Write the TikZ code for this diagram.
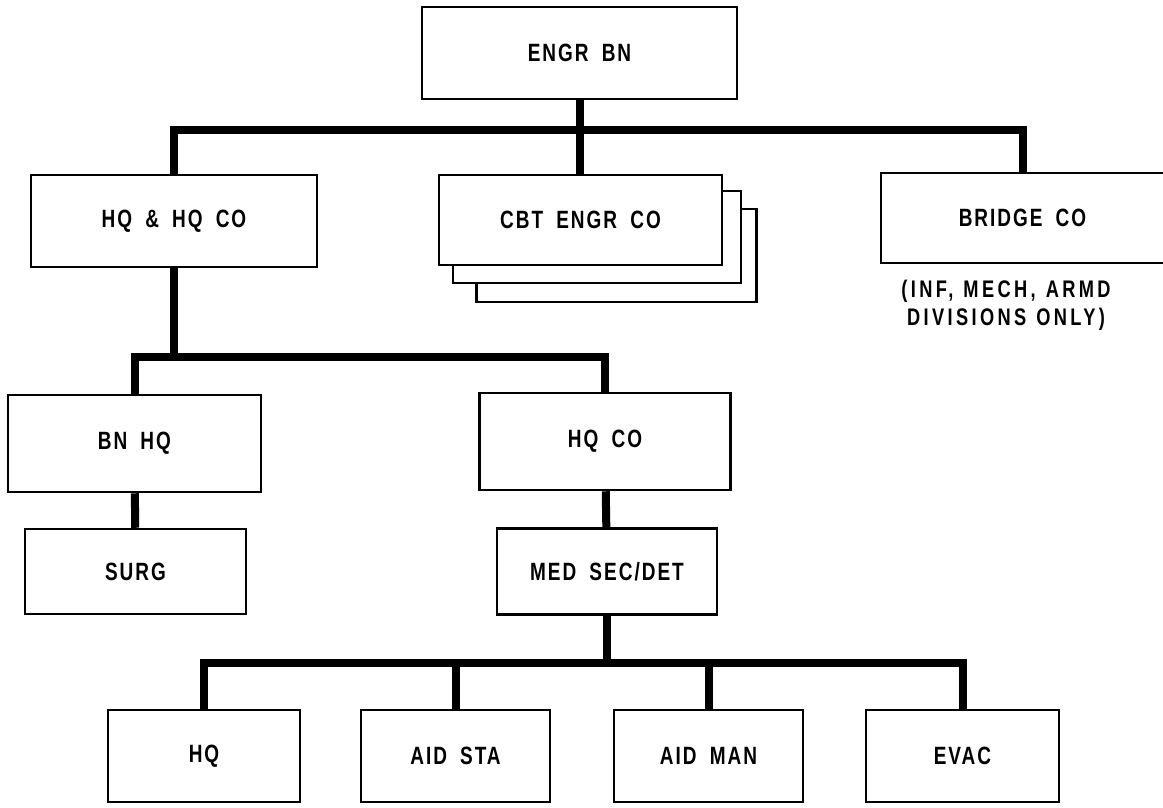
\documentclass[tikz,border=0pt]{standalone}
\usepackage{fontspec}
\setmainfont{Liberation Sans}[FakeStretch=0.76,LetterSpace=8,WordSpace=1.8]
\newfontfamily\notefamily{Liberation Sans}[FakeStretch=0.76,LetterSpace=14,WordSpace=1.2]
\newcommand\orgfont{\fontsize{25}{29}\selectfont\bfseries}
\newcommand\notefont{\notefamily\fontsize{24}{28}\selectfont\bfseries}
\tikzset{
  unit/.style={draw, line width=2.5pt, fill=white, inner sep=0pt, font=\orgfont},
  conn/.style={line width=8pt}
}
\begin{document}
\begin{tikzpicture}[x=1pt,y=-1pt]
      \useasboundingbox (0,0) rectangle (1163,807);
      % second and third combat companies, behind the first
      \draw
        (616.5,255.5) node[unit, minimum width=280pt, minimum height=93pt] (cbtc){}
        (597,237) node[unit, minimum width=288pt, minimum height=92pt] (cbtb){};
      \draw
        (579.5,53) node[unit, minimum width=315pt, minimum height=92pt] (engr){ENGR BN}
        (174,221) node[unit, minimum width=286pt, minimum height=92pt] (hqhq){HQ \& HQ CO}
        (580.5,220) node[unit, minimum width=283pt, minimum height=90pt] (cbt){CBT ENGR CO}
        (1022.5,218) node[unit, minimum width=283pt, minimum height=90pt] (bridge){BRIDGE CO}
        (1006,305) node[font=\notefont, align=center] (note){(INF, MECH, ARMD\\DIVISIONS ONLY)}
        (134.5,443.5) node[unit, minimum width=253pt, minimum height=97pt] (bnhq){BN HQ}
        (605,441.5) node[unit, minimum width=251pt, minimum height=97pt] (hqco){HQ CO}
        (135.5,571.5) node[unit, minimum width=221pt, minimum height=85pt] (surg){SURG}
        (607,571.5) node[unit, minimum width=220pt, minimum height=86pt] (med){MED SEC/DET}
        (204,756) node[unit, minimum width=192pt, minimum height=92pt] (hq){HQ}
        (455.5,756) node[unit, minimum width=189pt, minimum height=92pt] (aidsta){AID STA}
        (708.5,756) node[unit, minimum width=189pt, minimum height=92pt] (aidman){AID MAN}
        (962.5,756) node[unit, minimum width=193pt, minimum height=92pt] (evac){EVAC};
      \coordinate (bar1) at (0,130);
      \coordinate (bar2) at (0,357);
      \coordinate (bar3) at (0,663);
      \begin{scope}[conn]
        \draw (engr.south) -- (engr.south |- cbt.north);
        \draw (hqhq.north) -- (hqhq |- bar1) -- (bridge |- bar1) -- (bridge.north);
        \draw (hqhq.south) -- (hqhq |- bar2);
        \draw (bnhq.north) -- (bnhq |- bar2) -- (hqco |- bar2) -- (hqco.north);
        \draw (bnhq) -- (surg);
        \draw (hqco) -- (med);
        \draw (med.south) -- (med |- bar3);
        \draw (hq.north) -- (hq |- bar3) -- (evac |- bar3) -- (evac.north);
        \draw (aidsta.north) -- (aidsta |- bar3);
        \draw (aidman.north) -- (aidman |- bar3);
      \end{scope}
    \end{tikzpicture}
\end{document}
